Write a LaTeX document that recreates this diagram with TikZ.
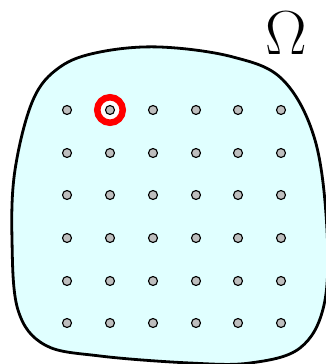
\documentclass[tikz,border=0pt]{standalone}
\begin{document}
\begin{tikzpicture}[x=1pt,y=-1pt,
  region/.style={draw=black, line width=2.8pt, fill={rgb,255:red,224;green,255;blue,255}},
  gridpt/.style={circle, draw=black, line width=1.1pt, fill={rgb,255:red,190;green,190;blue,190}, inner sep=0pt, minimum size=9pt},
  marker/.style={circle, draw=red, line width=6.5pt, fill=white, inner sep=0pt, minimum size=25.5pt},
  label/.style={scale=2.5, inner sep=0pt}]
\useasboundingbox (0,0) rectangle (326,364);
\begin{scope}
\clip (0,0) rectangle (326,364);
\draw[region] plot[smooth cycle, tension=0.6] coordinates {
 (160,47) (233,57) (283,80) (315,140) (327,230) (324,305) (300,348) (250,363)
 (190,363) (100,356) (45,345) (18,310) (12,240) (15,170) (33,100) (60,67) (100,52)};
\end{scope}
\node[marker] (sel) at (110,110) {};
\foreach \i [count=\c] in {67,110,153,196,238,281}{
  \foreach \j [count=\r] in {110,153,195,238,281,323}{
    \node[gridpt] (p\c\r) at (\i,\j) {};
  }
}
\node[label] (omega) at (286,33) {\Huge$\Omega$};
\end{tikzpicture}
\end{document}
